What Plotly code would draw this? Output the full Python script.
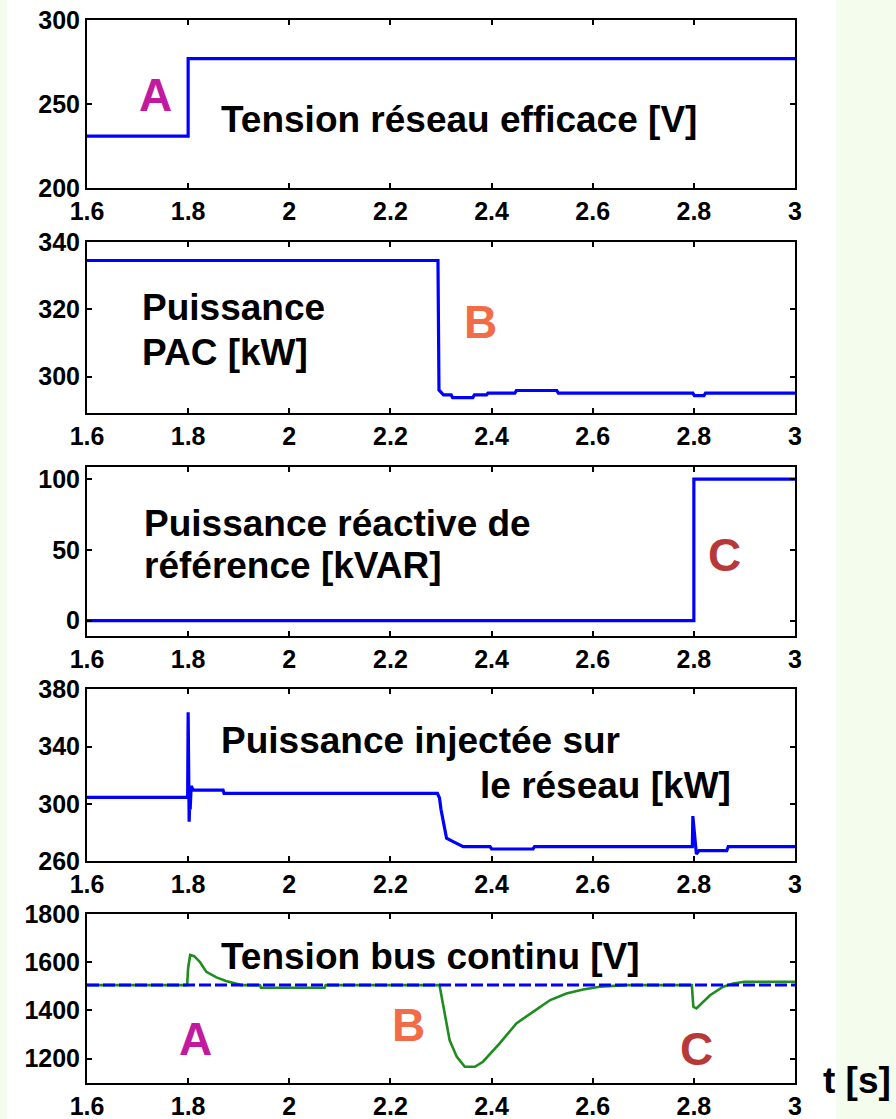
import plotly.graph_objects as go
from plotly.subplots import make_subplots

# ---------------- data ----------------
t_grid = [1.6, 3.0]

t_vrms = [1.6, 1.8, 1.8, 3.0]
v_vrms = [231, 231, 277, 277]

t_pac = [1.6, 2.294, 2.296, 2.300, 2.305, 2.320, 2.323, 2.363, 2.366, 2.390, 2.393,
         2.446, 2.449, 2.529, 2.532, 2.798, 2.801, 2.820, 2.823, 3.0]
v_pac = [334.5, 334.5, 296.0, 295.3, 294.6, 294.6, 293.8, 293.8, 294.6, 294.6, 295.1,
         295.1, 295.9, 295.9, 295.1, 295.1, 294.4, 294.4, 295.1, 295.1]

t_qref = [1.6, 2.8, 2.8, 3.0]
v_qref = [0, 0, 100, 100]

t_pinj = [1.6, 1.799, 1.800, 1.801, 1.802, 1.803, 1.804, 1.806, 1.810, 1.869, 1.871,
          2.293, 2.297, 2.300, 2.304, 2.311, 2.324, 2.344, 2.397, 2.400, 2.482, 2.485,
          2.797, 2.798, 2.801, 2.805, 2.810, 2.865, 2.868, 3.0]
v_pinj = [304.5, 304.5, 364, 290, 287.5, 300, 296, 312.4, 309.6, 309.6, 307.3,
          307.3, 304, 296, 288.8, 275.9, 273.5, 270, 270, 268.4, 268.4, 270,
          270, 291.4, 280, 264.9, 267.2, 267.2, 270, 270]

t_vdc = [1.6, 1.798, 1.800, 1.802, 1.804, 1.812, 1.823, 1.836, 1.856, 1.875, 1.889,
         1.905, 1.942, 1.944, 2.070, 2.072, 2.297, 2.304, 2.317, 2.331, 2.347, 2.367,
         2.383, 2.416, 2.449, 2.482, 2.516, 2.548, 2.581, 2.614, 2.667, 2.796, 2.799,
         2.805, 2.832, 2.858, 2.878, 2.900, 3.0]
v_vdc = [1505, 1505, 1576, 1600, 1630, 1625, 1602, 1560, 1537, 1522, 1514,
         1505, 1505, 1494, 1494, 1505, 1505, 1429, 1277, 1208, 1166, 1166,
         1187, 1263, 1346, 1394, 1443, 1470, 1487, 1498, 1505, 1505, 1415,
         1408, 1463, 1498, 1512, 1519, 1519]
v_vdc_ref = [1505, 1505]

x_ticks = [1.6, 1.8, 2.0, 2.2, 2.4, 2.6, 2.8, 3.0]
x_ticktext = ["1.6", "1.8", "2", "2.2", "2.4", "2.6", "2.8", "3"]
y_ticks = [[200, 250, 300], [300, 320, 340], [0, 50, 100], [260, 300, 340, 380],
           [1200, 1400, 1600, 1800]]
y_ranges = [[200, 300], [289.3, 340], [-10.6, 108.8], [260, 380], [1100, 1800]]

# ---------------- layout geometry (pixels) ----------------
W, H = 896, 1119
L, R, T, B = 87, 795, 20, 1083
panels_px = [(19.7, 188.3), (242, 412.7), (466.7, 635.7), (689.3, 861), (914, 1082.7)]


def px_x(px):
    return (px - L) / (R - L)


def px_y(py):
    return 1 - (py - T) / (B - T)


BLUE = "#0000ff"
GREEN = "#1e8c1e"

fig = make_subplots(rows=5, cols=1)

series = [(t_vrms, v_vrms), (t_pac, v_pac), (t_qref, v_qref), (t_pinj, v_pinj)]
for i, (tx, vy) in enumerate(series):
    fig.add_trace(go.Scatter(x=tx, y=vy, mode="lines", line=dict(color=BLUE, width=3.2),
                             showlegend=False, hoverinfo="skip"), row=i + 1, col=1)

fig.add_trace(go.Scatter(x=t_vdc, y=v_vdc, mode="lines", line=dict(color=GREEN, width=2.6),
                         showlegend=False, hoverinfo="skip"), row=5, col=1)
fig.add_trace(go.Scatter(x=t_grid, y=v_vdc_ref, mode="lines",
                         line=dict(color=BLUE, width=3, dash="12px,4px"),
                         showlegend=False, hoverinfo="skip"), row=5, col=1)

tickfont = dict(family="Liberation Sans, Arial", size=25, color="black", weight="bold")

for i in range(5):
    top, bot = panels_px[i]
    dom = [max(0, px_y(bot)), min(1, px_y(top))]
    fig.update_yaxes(row=i + 1, col=1, domain=dom, range=y_ranges[i], tickvals=y_ticks[i],
                     ticks="inside", ticklen=5, tickwidth=1.5, tickcolor="black",
                     showline=True, linecolor="black", linewidth=2, mirror="ticks",
                     showgrid=False, zeroline=False, tickfont=tickfont, automargin=False,
                     fixedrange=True)
    fig.update_xaxes(row=i + 1, col=1, range=[1.6, 3.0], tickvals=x_ticks,
                     ticktext=x_ticktext,
                     ticks="inside", ticklen=5, tickwidth=1.5, tickcolor="black",
                     showline=True, linecolor="black", linewidth=2, mirror="ticks",
                     showgrid=False, zeroline=False, tickfont=tickfont, automargin=False,
                     fixedrange=True)

textfont = dict(family="Liberation Sans, Arial", size=37, color="black", weight="bold")
labels = [
    ("Tension réseau efficace [V]", 220, 119),
    ("Puissance", 141, 308),
    ("PAC [kW]", 141, 353),
    ("Puissance réactive de", 143, 523),
    ("référence [kVAR]", 143, 565),
    ("Puissance injectée sur", 220, 740),
    ("le réseau [kW]", 479, 785),
    ("Tension bus continu [V]", 220, 956),
    ("t [s]", 822, 1080),
]
for txt, x, y in labels:
    fig.add_annotation(text=txt, x=px_x(x), y=px_y(y), xref="paper", yref="paper",
                       xanchor="left", yanchor="middle", showarrow=False, font=textfont,
                       borderpad=0)

COL_A, COL_B, COL_C = "#c21a9f", "#f26c47", "#b8383a"
events = [
    ("A", COL_A, 155, 95), ("B", COL_B, 480, 322), ("C", COL_C, 724, 555),
    ("A", COL_A, 195, 1039), ("B", COL_B, 408, 1025), ("C", COL_C, 696, 1049),
]
for txt, col, x, y in events:
    fig.add_annotation(text=txt, x=px_x(x), y=px_y(y), xref="paper", yref="paper",
                       xanchor="center", yanchor="middle", showarrow=False, borderpad=0,
                       font=dict(family="Liberation Sans, Arial", size=46, color=col,
                                 weight="bold"))

# white page area with light green edges
fig.add_shape(type="rect", xref="paper", yref="paper", x0=px_x(7), x1=px_x(836),
              y0=px_y(H + 5), y1=px_y(-5), fillcolor="white", line=dict(width=0),
              layer="below")

fig.update_layout(width=W, height=H, margin=dict(l=L, r=W - R, t=T, b=H - B,
                                                 autoexpand=False),
                  paper_bgcolor="#f4fcee", plot_bgcolor="white", showlegend=False)

fig.write_html("out.html",
               post_script="document.body.style.margin='0';"
                           "document.body.style.overflow='hidden';"
                           "document.body.style.background='#f4fcee';",
               config={"displayModeBar": False})
